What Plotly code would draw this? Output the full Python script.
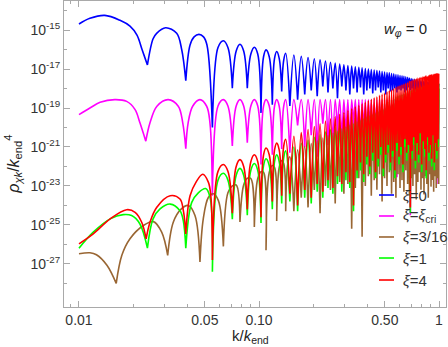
import plotly.graph_objects as go

# values are log10(rho_chik / k_end^4)

# ---- low-k part: hand-read points along the arches ----
xi0_k = [0.0100, 0.0115, 0.0139, 0.0169, 0.0192, 0.0210, 0.0224, 0.0240,
         0.0258, 0.0270, 0.0303, 0.0349, 0.0372, 0.0392,
         0.0414, 0.0436, 0.0464, 0.0492, 0.0514, 0.0551,
         0.0592, 0.0634, 0.0672, 0.0711, 0.0747, 0.0784, 0.0822, 0.0861,
         0.0901, 0.0942, 0.0984, 0.1026, 0.1060, 0.1094, 0.1140, 0.1186,
         0.1220, 0.1254, 0.1295, 0.1337, 0.1372, 0.1407]
xi0_v = [-14.69, -14.40, -14.25, -14.50, -14.80, -15.26, -16.00, -16.79,
         -15.45, -15.17, -14.88, -15.17, -16.00, -17.60,
         -15.77, -15.35, -15.22, -15.35, -15.77, -20.00,
         -15.90, -15.55, -15.90, -17.98, -16.08, -15.73, -16.08, -17.98,
         -16.23, -15.88, -16.23, -19.25, -16.37, -16.02, -16.37, -18.83,
         -16.45, -16.10, -16.45, -18.15, -16.54, -16.19]

xicri_k = [0.0100, 0.0115, 0.0131, 0.0158, 0.0184, 0.0205, 0.0218, 0.0235,
           0.0248, 0.0271, 0.0313, 0.0356, 0.0377, 0.0392,
           0.0404, 0.0428, 0.0470, 0.0512, 0.0534, 0.0551,
           0.0592, 0.0634, 0.0672, 0.0711, 0.0747, 0.0784, 0.0822, 0.0861,
           0.0901, 0.0942, 0.0984, 0.1026, 0.1060, 0.1094, 0.1140, 0.1186,
           0.1220, 0.1254, 0.1295, 0.1337, 0.1372, 0.1407]
xicri_v = [-19.34, -19.00, -18.71, -18.57, -18.66, -19.08, -19.76, -20.70,
           -19.76, -18.91, -18.57, -18.91, -19.76, -21.09,
           -19.76, -18.91, -18.57, -18.91, -19.76, -23.50,
           -18.90, -18.57, -18.90, -20.95, -18.90, -18.57, -18.90, -20.78,
           -18.90, -18.57, -18.90, -21.90, -18.90, -18.57, -18.90, -21.40,
           -18.90, -18.57, -18.90, -21.10, -18.90, -18.57]

xi316_k = [0.0100, 0.0115, 0.0125, 0.0143, 0.0161, 0.0173, 0.0192, 0.0228,
           0.0259, 0.0288, 0.0311, 0.0334, 0.0368, 0.0405, 0.0441, 0.0470,
           0.0490, 0.0523, 0.0557,
           0.0595, 0.0634, 0.0672, 0.0711, 0.0747, 0.0784, 0.0822, 0.0861,
           0.0901, 0.0942, 0.0984, 0.1026, 0.1060, 0.1094, 0.1140, 0.1186,
           0.1220, 0.1254, 0.1295, 0.1337, 0.1372, 0.1407, 0.1445, 0.1484]
xi316_v = [-26.48, -26.43, -26.53, -27.07, -28.00, -26.56, -25.71, -25.03,
           -24.83, -25.37, -26.56, -24.86, -24.20, -24.00, -24.52, -26.90,
           -24.70, -23.59, -23.40,
           -23.75, -26.10, -23.35, -23.00, -22.95, -24.85, -22.95, -22.60,
           -22.62, -25.10, -22.62, -22.27, -22.30, -26.30, -22.30, -21.95,
           -22.05, -24.80, -22.05, -21.70, -21.85, -24.30, -21.85, -21.50]

xi1_k = [0.0100, 0.0120, 0.0149, 0.0176, 0.0196, 0.0218, 0.0240,
         0.0258, 0.0282, 0.0321, 0.0364, 0.0380, 0.0392,
         0.0423, 0.0460, 0.0506, 0.0535, 0.0551,
         0.0592, 0.0634, 0.0672, 0.0711, 0.0747, 0.0784, 0.0822, 0.0861,
         0.0901, 0.0942, 0.0984, 0.1026, 0.1060, 0.1094, 0.1140, 0.1186,
         0.1220, 0.1254, 0.1295, 0.1337, 0.1372, 0.1407]
xi1_v = [-26.19, -25.37, -24.69, -24.47, -24.52, -24.95, -26.19,
         -24.69, -24.18, -23.93, -24.27, -24.80, -26.19,
         -23.84, -23.35, -23.13, -23.60, -27.40,
         -22.70, -22.35, -22.70, -24.70, -22.45, -22.10, -22.45, -24.50,
         -22.20, -21.85, -22.20, -24.90, -21.95, -21.60, -21.95, -24.20,
         -21.75, -21.40, -21.75, -23.90, -21.55, -21.20]

xi4_k = [0.0100, 0.0120, 0.0149, 0.0184, 0.0205, 0.0223, 0.0236,
         0.0248, 0.0270, 0.0321, 0.0364, 0.0380, 0.0392,
         0.0414, 0.0447, 0.0487, 0.0523, 0.0540, 0.0551,
         0.0592, 0.0634, 0.0672, 0.0711, 0.0747, 0.0784, 0.0822, 0.0861,
         0.0901, 0.0942, 0.0984, 0.1026, 0.1060, 0.1094, 0.1140, 0.1186,
         0.1220, 0.1254, 0.1295, 0.1337, 0.1372, 0.1407]
xi4_v = [-25.97, -25.46, -24.69, -24.22, -24.35, -24.86, -25.71,
         -24.86, -24.10, -23.50, -23.67, -24.27, -25.46,
         -23.50, -22.80, -22.40, -22.80, -23.50, -26.80,
         -22.25, -21.90, -22.25, -24.40, -22.00, -21.65, -22.00, -24.20,
         -21.75, -21.40, -21.75, -24.60, -21.40, -21.05, -21.40, -23.80,
         -21.15, -20.80, -21.15, -23.50, -20.95, -20.60]

# ---- dense part: zeros (dips) and arch tops, one value per oscillation ----
# blue/magenta/green/red dip at k_zero and peak at k_zero_b; brown the other way round
k_zero = [0.1484, 0.1639, 0.1795, 0.1951, 0.2106, 0.2262, 0.2417, 0.2573, 0.2729, 0.2884,
          0.3040, 0.3195, 0.3351, 0.3507, 0.3662, 0.3818, 0.3973, 0.4129, 0.4285, 0.4440,
          0.4596, 0.4751, 0.4907, 0.5063, 0.5218, 0.5374, 0.5529, 0.5685, 0.5841, 0.5996,
          0.6152, 0.6307, 0.6463, 0.6619, 0.6774, 0.6930, 0.7085, 0.7241, 0.7397, 0.7552,
          0.7708, 0.7863, 0.8019, 0.8175, 0.8330, 0.8486, 0.8641, 0.8797, 0.8953, 0.9108,
          0.9264, 0.9419, 0.9575, 0.9731, 0.9886]
k_zero_b = [0.1562, 0.1717, 0.1873, 0.2029, 0.2184, 0.2340, 0.2495, 0.2651, 0.2807, 0.2962,
            0.3118, 0.3273, 0.3429, 0.3585, 0.3740, 0.3896, 0.4051, 0.4207, 0.4363, 0.4518,
            0.4674, 0.4829, 0.4985, 0.5141, 0.5296, 0.5452, 0.5607, 0.5763, 0.5919, 0.6074,
            0.6230, 0.6385, 0.6541, 0.6697, 0.6852, 0.7008, 0.7163, 0.7319, 0.7475, 0.7630,
            0.7786, 0.7941, 0.8097, 0.8253, 0.8408, 0.8564, 0.8719, 0.8875, 0.9031, 0.9186,
            0.9342, 0.9497, 0.9653, 0.9809, 0.9964]
k_end = 1.0

xi0_top = [-16.28, -16.35, -16.41, -16.47, -16.53, -16.59, -16.65, -16.70, -16.74, -16.78,
           -16.82, -16.85, -16.88, -16.91, -16.94, -16.97, -17.00, -17.03, -17.05, -17.08,
           -17.10, -17.13, -17.15, -17.18, -17.20, -17.23, -17.25, -17.28, -17.30, -17.33,
           -17.35, -17.37, -17.40, -17.43, -17.46, -17.49, -17.51, -17.53, -17.55, -17.57,
           -17.59, -17.60, -17.62, -17.63, -17.65, -17.66, -17.68, -17.69, -17.70, -17.72,
           -17.73, -17.74, -17.75, -17.76, -17.77]
xi0_dip = [-18.90, -18.57, -18.30, -18.10, -18.40, -17.90, -18.20, -18.00, -18.50, -17.90,
           -18.10, -18.30, -18.00, -18.20, -17.95, -18.30, -18.10, -18.00, -18.25, -18.10,
           -17.95, -18.20, -18.10, -18.30, -18.00, -18.15, -18.10, -18.00, -18.20, -18.05,
           -18.10, -18.00, -18.20, -18.10, -17.95, -18.10, -18.00, -18.20, -18.10, -18.00,
           -18.15, -18.05, -18.10, -18.00, -18.20, -18.10, -18.05, -18.15, -18.00, -18.10,
           -18.20, -18.05, -18.10, -18.00, -18.15]

xicri_top = [-18.57, -18.56, -18.57, -18.57, -18.56, -18.57, -18.57, -18.56, -18.57, -18.57,
             -18.56, -18.57, -18.57, -18.56, -18.57, -18.57, -18.56, -18.57, -18.57, -18.56,
             -18.57, -18.57, -18.56, -18.57, -18.57, -18.56, -18.57, -18.57, -18.56, -18.57,
             -18.57, -18.56, -18.57, -18.57, -18.56, -18.57, -18.57, -18.56, -18.57, -18.57,
             -18.56, -18.57, -18.57, -18.56, -18.57, -18.57, -18.56, -18.57, -18.57, -18.56,
             -18.57, -18.57, -18.56, -18.57, -18.57]
xicri_dip = [-21.30, -19.90, -21.00, -20.40, -21.50, -19.80, -20.90, -21.30, -20.20, -21.00,
             -20.60, -21.40, -20.00, -20.80, -21.20, -20.50, -21.00, -20.30, -21.40, -20.70,
             -21.10, -20.40, -21.50, -20.60, -21.00, -20.80, -21.30, -20.50, -22.55, -20.90,
             -21.30, -20.60, -21.10, -20.80, -21.20, -24.50, -20.70, -21.00, -20.50, -21.30,
             -20.80, -21.10, -20.60, -21.40, -20.90, -21.20, -20.70, -21.00, -20.60, -21.30,
             -20.90, -22.20, -21.00, -22.90, -20.80]

xi316_top = [-21.15, -20.98, -20.82, -20.68, -20.54, -20.41, -20.29, -20.18, -20.07, -19.97,
             -19.87, -19.78, -19.70, -19.62, -19.54, -19.46, -19.39, -19.32, -19.26, -19.20,
             -19.14, -19.08, -19.02, -18.96, -18.90, -18.84, -18.78, -18.72, -18.67, -18.62,
             -18.58, -18.54, -18.50, -18.46, -18.42, -18.38, -18.34, -18.31, -18.28, -18.25,
             -18.22, -18.20, -18.18, -18.16, -18.14, -18.12, -18.10, -18.09, -18.07, -18.05,
             -18.04, -18.03, -18.02, -18.01, -18.00]
xi316_dip = [-24.30, -23.60, -24.10, -23.20, -24.40, -23.00, -23.20, -23.90, -22.80, -23.40,
             -22.90, -25.20, -23.10, -22.60, -25.60, -23.00, -22.50, -23.50, -22.70, -23.20,
             -22.40, -23.80, -22.60, -23.00, -22.30, -23.40, -22.80, -23.60, -22.40, -23.10,
             -22.70, -23.30, -22.20, -22.90, -23.50, -22.60, -23.00, -22.40, -23.70, -22.80,
             -22.30, -23.20, -22.60, -23.40, -22.50, -22.90, -23.60, -22.40, -23.00, -22.70,
             -23.30, -22.50, -23.10, -22.60, -22.90]

xi1_top = [-21.00, -20.81, -20.65, -20.50, -20.36, -20.22, -20.10, -19.99, -19.87, -19.78,
           -19.67, -19.58, -19.49, -19.41, -19.33, -19.25, -19.17, -19.10, -19.03, -18.97,
           -18.90, -18.84, -18.78, -18.72, -18.66, -18.56, -18.50, -18.43, -18.38, -18.34,
           -18.30, -18.26, -18.22, -18.18, -18.14, -18.09, -18.05, -18.02, -17.99, -17.96,
           -17.94, -17.92, -17.90, -17.88, -17.87, -17.86, -17.84, -17.82, -17.81, -17.79,
           -17.78, -17.77, -17.76, -17.75, -17.74]
xi1_dip = [-23.80, -24.30, -23.60, -23.90, -23.30, -23.60, -23.10, -23.40, -22.90, -23.30,
           -22.70, -23.10, -24.30, -22.60, -22.20, -22.80, -21.90, -22.40, -21.70, -22.60,
           -22.00, -21.40, -22.50, -21.80, -21.30, -22.20, -21.50, -22.60, -21.20, -21.90,
           -21.40, -22.30, -21.00, -21.70, -21.30, -24.40, -21.60, -20.90, -22.10, -21.20,
           -21.80, -20.70, -22.30, -21.10, -21.50, -22.60, -20.90, -21.70, -21.30, -22.00,
           -20.80, -22.20, -21.20, -21.60, -21.00]

xi4_top = [-20.45, -20.26, -20.10, -19.95, -19.81, -19.67, -19.55, -19.44, -19.32, -19.23,
           -19.12, -19.03, -18.94, -18.86, -18.78, -18.70, -18.62, -18.55, -18.48, -18.42,
           -18.35, -18.29, -18.23, -18.17, -18.11, -18.06, -18.00, -17.93, -17.88, -17.84,
           -17.80, -17.76, -17.72, -17.68, -17.64, -17.59, -17.55, -17.52, -17.49, -17.46,
           -17.44, -17.42, -17.40, -17.38, -17.37, -17.36, -17.34, -17.32, -17.31, -17.29,
           -17.28, -17.27, -17.26, -17.25, -17.24]
xi4_dip = [-23.40, -24.00, -23.20, -23.60, -22.90, -23.30, -22.70, -23.10, -22.50, -22.90,
           -22.30, -22.80, -24.00, -22.20, -21.80, -22.40, -21.50, -22.00, -21.30, -22.30,
           -21.60, -21.00, -22.10, -21.40, -20.90, -21.80, -21.20, -22.20, -20.80, -21.50,
           -21.00, -21.90, -20.60, -21.30, -20.90, -24.10, -21.20, -20.50, -21.70, -20.80,
           -21.40, -20.30, -21.90, -20.70, -21.10, -22.20, -20.50, -21.30, -20.90, -21.60,
           -20.40, -21.80, -20.80, -21.20, -20.60]

labels = ["<i>ξ</i>=0", "<i>ξ</i>=<i>ξ</i><sub>cri</sub>", "<i>ξ</i>=3/16", "<i>ξ</i>=1", "<i>ξ</i>=4"]
colors = ["#0000ff", "#ff00ff", "#996633", "#00ff00", "#ff0000"]


def curve(k_low, v_low, k_dip, dips, k_top, tops):
    ks, vs = list(k_low), list(v_low)
    for kd, d, kt, t in zip(k_dip, dips, k_top, tops):
        ks += [kd, kt]
        vs += [d, t]
    # repeat every local minimum so the spline keeps a sharp cusp there
    xk, xv = [ks[0]], [vs[0]]
    for i in range(1, len(ks)):
        if i < len(ks) - 1 and vs[i] < vs[i - 1] and vs[i] < vs[i + 1]:
            xk.append(ks[i])
            xv.append(vs[i])
        xk.append(ks[i])
        xv.append(vs[i])
    return xk, [10 ** v for v in xv]


series = [
    curve(xi0_k, xi0_v, k_zero, xi0_dip, k_zero_b, xi0_top),
    curve(xicri_k, xicri_v, k_zero, xicri_dip, k_zero_b, xicri_top),
    curve(xi316_k, xi316_v, k_zero_b, xi316_dip, k_zero[1:] + [k_end], xi316_top),
    curve(xi1_k, xi1_v, k_zero, xi1_dip, k_zero_b, xi1_top),
    curve(xi4_k, xi4_v, k_zero, xi4_dip, k_zero_b, xi4_top),
]

fig = go.Figure()
for (x, y), c in zip(series, colors):
    fig.add_trace(go.Scatter(x=x, y=y, mode="lines",
                             line=dict(color=c, width=1.6, shape="spline", simplify=False),
                             showlegend=False, hoverinfo="skip"))

frame = "#a9a9a9"
fig.update_xaxes(type="log", range=[-2.0833, 0.0389],
                 tickvals=[0.01, 0.05, 0.1, 0.5, 1],
                 ticktext=["0.01", "0.05", "0.10", "0.50", "1"],
                 ticks="inside", ticklen=6, tickcolor=frame,
                 showline=True, linecolor=frame, mirror="allticks",
                 showgrid=False, zeroline=False,
                 minor=dict(tickvals=[0.009, 0.02, 0.03, 0.04, 0.06, 0.07, 0.08, 0.09,
                                      0.2, 0.3, 0.4, 0.6, 0.7, 0.8, 0.9],
                            ticks="inside", ticklen=3, tickcolor=frame, showgrid=False))
fig.update_yaxes(type="log", range=[-29.21, -13.51],
                 tickvals=[10.0 ** e for e in range(-15, -28, -2)],
                 ticktext=["10<sup>%d</sup>" % e for e in range(-15, -28, -2)],
                 ticks="inside", ticklen=6, tickcolor=frame,
                 showline=True, linecolor=frame, mirror="allticks",
                 showgrid=False, zeroline=False,
                 minor=dict(tickvals=[10.0 ** e for e in range(-14, -29, -2)],
                            ticks="inside", ticklen=3, tickcolor=frame, showgrid=False))

# legend drawn by hand so the sample lines stay short
rows = [0.366, 0.2974, 0.2288, 0.1601, 0.0882]
shapes, notes = [], []
for lab, c, yy in zip(labels, colors, rows):
    shapes.append(dict(type="line", xref="paper", yref="paper", x0=0.8246, x1=0.8639,
                       y0=yy, y1=yy, line=dict(color=c, width=1.6)))
    notes.append(dict(text=lab, xref="paper", yref="paper", x=0.8822, y=yy,
                      xanchor="left", yanchor="middle", showarrow=False,
                      font=dict(size=15, color="#333")))

notes.append(dict(text="<i>w</i><sub><i>φ</i></sub> = 0", xref="paper", yref="paper",
                  x=0.893, y=0.908, xanchor="center", yanchor="middle", showarrow=False,
                  font=dict(size=15, color="#222")))
notes.append(dict(text="<i>ρ</i><sub><i>χk</i></sub>/<i>k</i><sub>end</sub><sup>4</sup>",
                  xref="paper", yref="paper", x=-0.1335, y=0.465, textangle=-90,
                  xanchor="center", yanchor="middle", showarrow=False,
                  font=dict(size=16, color="#222")))
notes.append(dict(text="k/<i>k</i><sub>end</sub>", xref="paper", yref="paper",
                  x=0.487, y=-0.095, xanchor="center", yanchor="middle", showarrow=False,
                  font=dict(size=15, color="#222")))

fig.update_layout(width=448, height=347, margin=dict(l=64, r=2, t=1, b=40),
                  plot_bgcolor="white", paper_bgcolor="white",
                  font=dict(family="Liberation Sans, Arial, sans-serif", size=14, color="#333"),
                  shapes=shapes, annotations=notes, showlegend=False)

fig.write_html("out.html", config={"displayModeBar": False},
               post_script="document.body.style.margin='0';")
